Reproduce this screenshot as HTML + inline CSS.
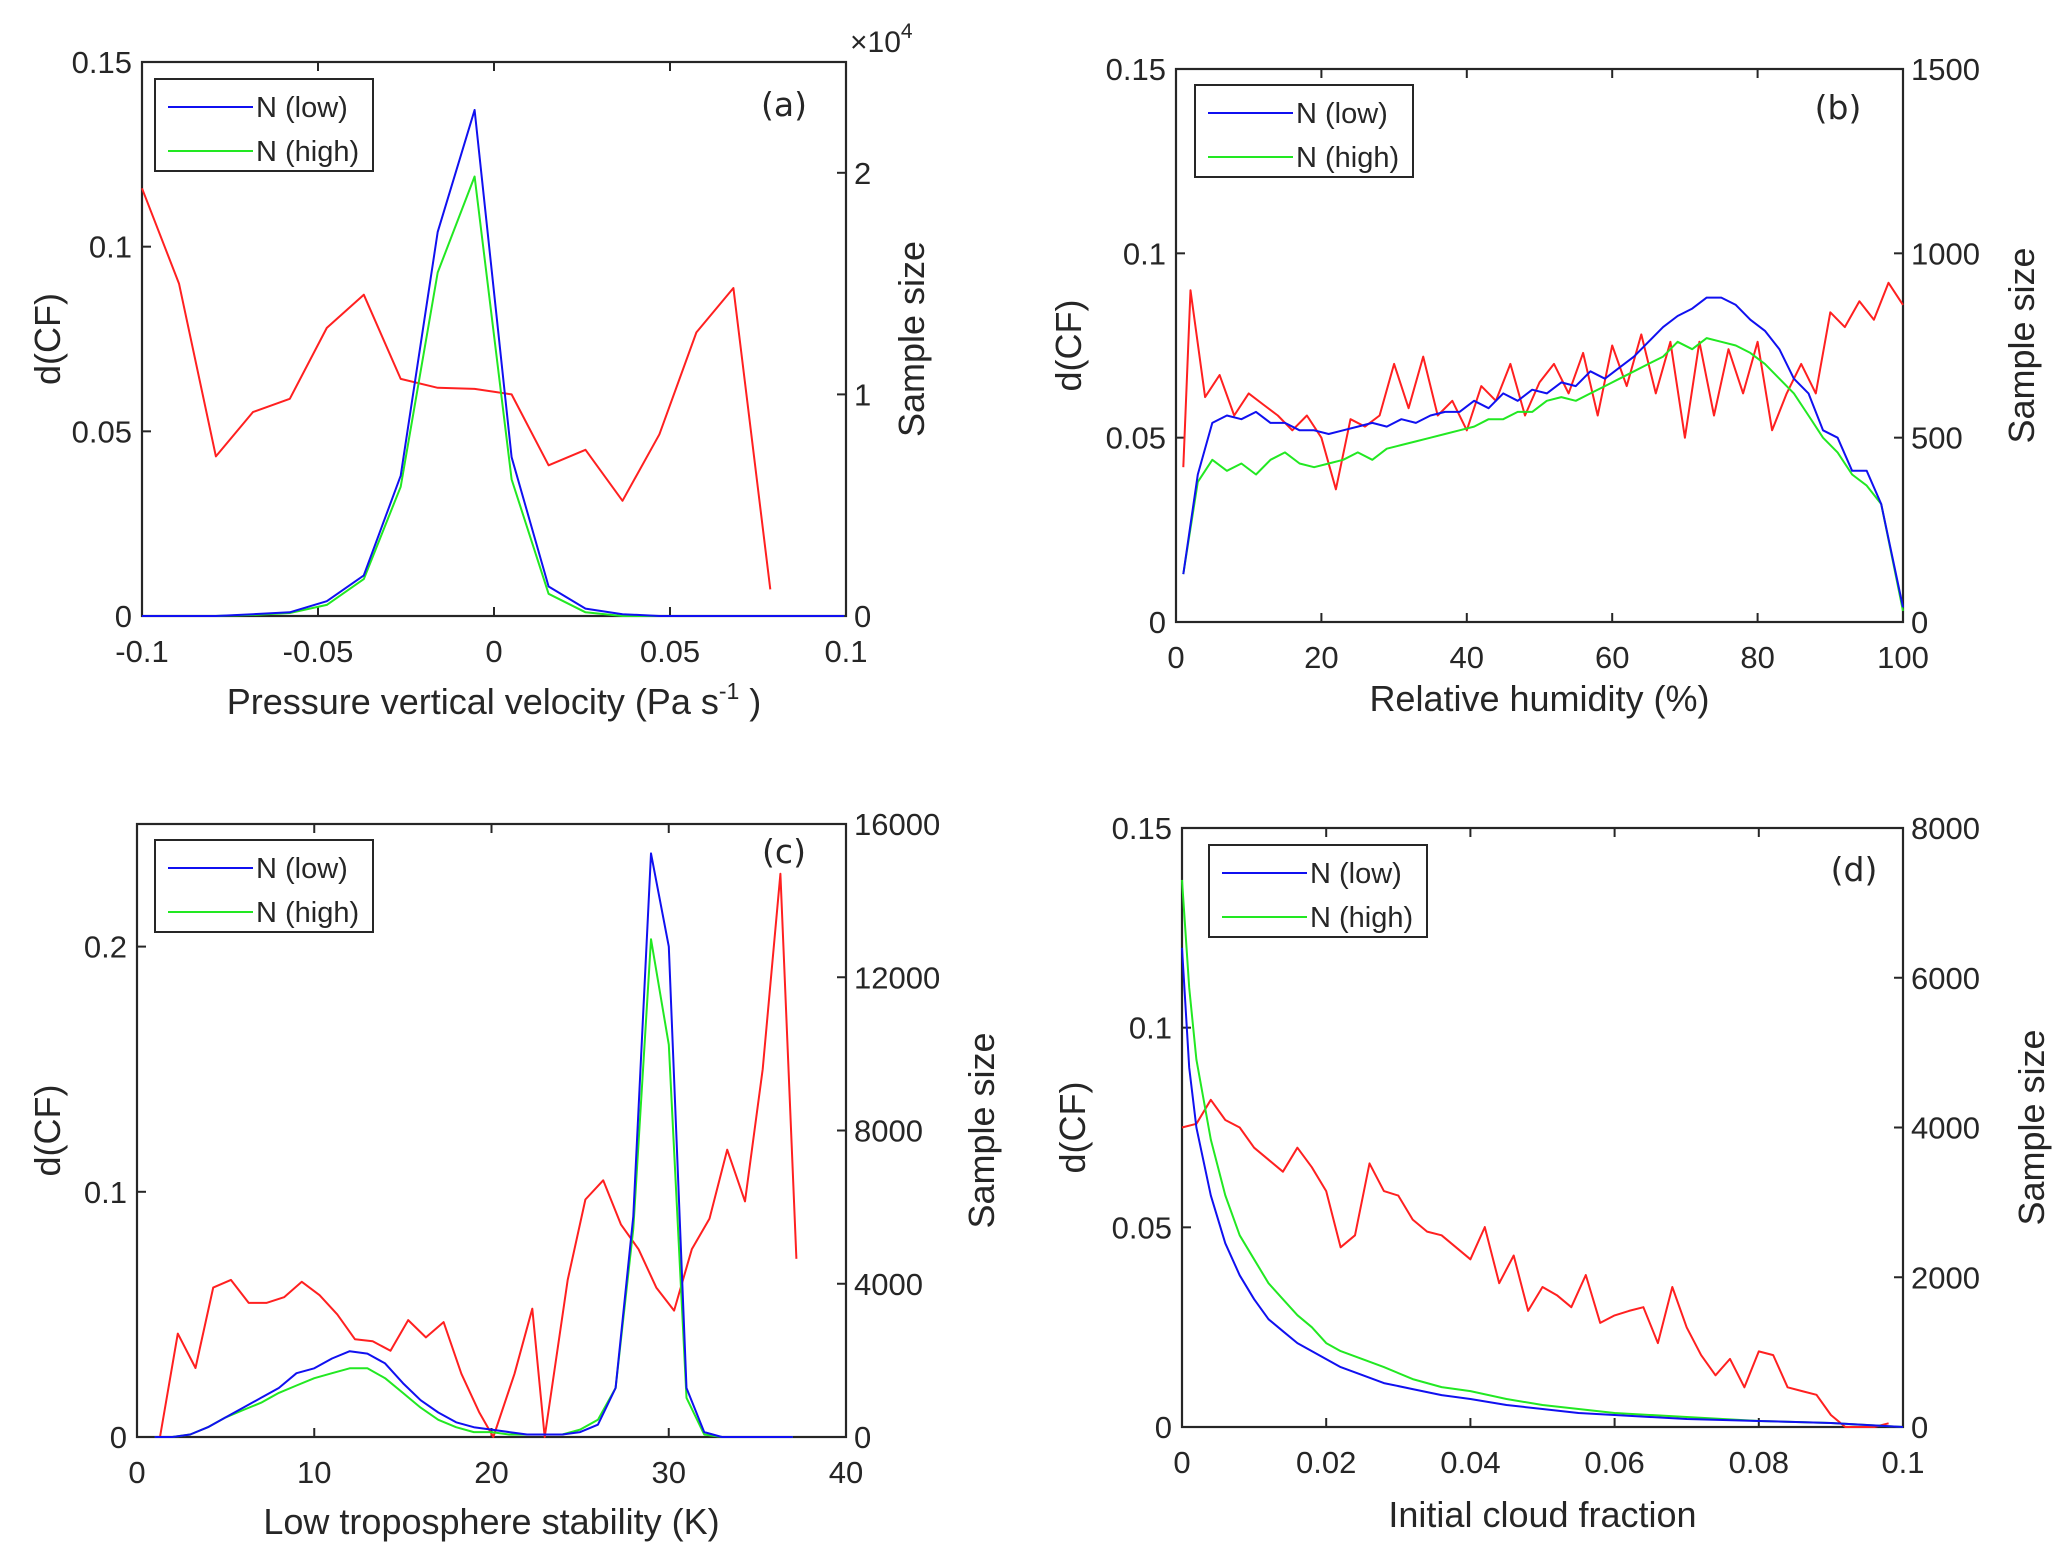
<!DOCTYPE html>
<html><head><meta charset="utf-8">
<style>
html,body{margin:0;padding:0;background:#fff;}
svg{display:block;font-family:"Liberation Sans",sans-serif;}
</style></head>
<body>
<svg id="fig" width="2067" height="1554" viewBox="0 0 2067 1554" xmlns="http://www.w3.org/2000/svg"></svg>
<script>
// ---- Panel (a) data ----
const aX = [-0.1,-0.0895,-0.079,-0.0685,-0.058,-0.0475,-0.037,-0.0265,-0.016,-0.0055,0.005,0.0155,0.026,0.0365,0.047,0.0575,0.068,0.0785,0.089,0.0995];
const aLow = [0,0,0,0.0005,0.001,0.004,0.011,0.038,0.104,0.137,0.043,0.008,0.002,0.0005,0,0,0,0,0,0];
const aHigh = [0,0,0,0.0003,0.0008,0.003,0.010,0.035,0.093,0.119,0.037,0.006,0.001,0,0,0,0,0,0,0];
const aRedX = [-0.1,-0.0895,-0.079,-0.0685,-0.058,-0.0475,-0.037,-0.0265,-0.016,-0.0055,0.005,0.0155,0.026,0.0365,0.047,0.0575,0.068,0.0785];
const aSample = [19300,15000,7200,9200,9800,13000,14500,10700,10300,10250,10000,6800,7500,5200,8200,12800,14800,1200];
// ---- Panel (b) data ----
const bX = [1,3,5,7,9,11,13,15,17,19,21,23,25,27,29,31,33,35,37,39,41,43,45,47,49,51,53,55,57,59,61,63,65,67,69,71,73,75,77,79,81,83,85,87,89,91,93,95,97,100];
const bLow = [0.013,0.040,0.054,0.056,0.055,0.057,0.054,0.054,0.052,0.052,0.051,0.052,0.053,0.054,0.053,0.055,0.054,0.056,0.057,0.057,0.060,0.058,0.062,0.060,0.063,0.062,0.065,0.064,0.068,0.066,0.069,0.072,0.076,0.080,0.083,0.085,0.088,0.088,0.086,0.082,0.079,0.074,0.066,0.062,0.052,0.050,0.041,0.041,0.032,0.004];
const bHigh = [0.013,0.038,0.044,0.041,0.043,0.040,0.044,0.046,0.043,0.042,0.043,0.044,0.046,0.044,0.047,0.048,0.049,0.050,0.051,0.052,0.053,0.055,0.055,0.057,0.057,0.060,0.061,0.060,0.062,0.064,0.066,0.068,0.070,0.072,0.076,0.074,0.077,0.076,0.075,0.073,0.070,0.066,0.062,0.056,0.050,0.046,0.040,0.037,0.032,0.003];
const bRedX = [1,2,4,6,8,10,12,14,16,18,20,22,24,26,28,30,32,34,36,38,40,42,44,46,48,50,52,54,56,58,60,62,64,66,68,70,72,74,76,78,80,82,84,86,88,90,92,94,96,98,100];
const bSample = [420,900,610,670,560,620,590,560,520,560,500,360,550,530,560,700,580,720,560,600,520,640,600,700,560,650,700,620,730,560,750,640,780,620,760,500,760,560,740,620,760,520,620,700,620,840,800,870,820,920,860];
// ---- Panel (c) data ----
const cX = [1,2,3,4,5,6,7,8,9,10,11,12,13,14,15,16,17,18,19,20,21,22,23,24,25,26,27,28,29,30,31,32,33,34,35,36,37];
const cLow = [0,0,0.001,0.004,0.008,0.012,0.016,0.020,0.026,0.028,0.032,0.035,0.034,0.030,0.022,0.015,0.010,0.006,0.004,0.003,0.002,0.001,0.001,0.001,0.002,0.005,0.020,0.090,0.238,0.200,0.020,0.002,0,0,0,0,0];
const cHigh = [0,0,0.001,0.004,0.008,0.011,0.014,0.018,0.021,0.024,0.026,0.028,0.028,0.024,0.018,0.012,0.007,0.004,0.002,0.002,0.001,0.001,0.001,0.001,0.003,0.007,0.020,0.085,0.203,0.160,0.016,0.001,0,0,0,0,0];
const cRedX = [1.3,2.3,3.3,4.3,5.3,6.3,7.3,8.3,9.3,10.3,11.3,12.3,13.3,14.3,15.3,16.3,17.3,18.3,19.3,20.1,21.3,22.3,23.0,24.3,25.3,26.3,27.3,28.3,29.3,30.3,31.3,32.3,33.3,34.3,35.3,36.3,37.2];
const cSample = [0,2700,1800,3900,4100,3500,3500,3650,4050,3700,3200,2550,2500,2250,3050,2600,3000,1650,650,0,1650,3350,0,4100,6200,6700,5550,4900,3900,3300,4900,5700,7500,6150,9600,14700,4650];
// ---- Panel (d) data ----
const dX = [0,0.001,0.002,0.004,0.006,0.008,0.010,0.012,0.014,0.016,0.018,0.020,0.022,0.025,0.028,0.032,0.036,0.040,0.045,0.050,0.055,0.060,0.070,0.080,0.090,0.100];
const dLow = [0.120,0.090,0.075,0.058,0.046,0.038,0.032,0.027,0.024,0.021,0.019,0.017,0.015,0.013,0.011,0.0095,0.008,0.007,0.0055,0.0045,0.0035,0.003,0.002,0.0015,0.001,0];
const dHigh = [0.137,0.110,0.092,0.072,0.058,0.048,0.042,0.036,0.032,0.028,0.025,0.021,0.019,0.017,0.015,0.012,0.010,0.009,0.007,0.0055,0.0045,0.0035,0.0025,0.0015,0.001,0];
const dRedX = [0,0.002,0.004,0.006,0.008,0.010,0.012,0.014,0.016,0.018,0.020,0.022,0.024,0.026,0.028,0.030,0.032,0.034,0.036,0.038,0.040,0.042,0.044,0.046,0.048,0.050,0.052,0.054,0.056,0.058,0.060,0.062,0.064,0.066,0.068,0.070,0.072,0.074,0.076,0.078,0.080,0.082,0.084,0.086,0.088,0.090,0.092,0.094,0.096,0.098];
const dSample = [4000,4050,4370,4100,4000,3730,3570,3410,3730,3470,3150,2400,2560,3520,3150,3090,2770,2610,2560,2400,2240,2670,1920,2290,1550,1870,1760,1600,2030,1390,1490,1550,1600,1120,1870,1330,960,690,910,530,1010,960,530,480,430,160,0,0,0,50];

const NS = 'http://www.w3.org/2000/svg';
const fig = document.getElementById('fig');
function mk(tag, attrs, parent){
  const e = document.createElementNS(NS, tag);
  for (const k in attrs) e.setAttribute(k, attrs[k]);
  (parent||fig).appendChild(e);
  return e;
}
function txt(parent, x, y, s, size, anchor, extra){
  const t = mk('text', Object.assign({x:x, y:y, 'font-size':size, fill:'#262626', 'text-anchor':anchor||'middle'}, extra||{}), parent);
  t.textContent = s;
  return t;
}

function panel(p){
  const g = mk('g', {});
  
  
  const sx = v => p.L + (v - p.xmin) / (p.xmax - p.xmin) * (p.R - p.L);
  const syL = v => p.B - v / p.ymax * (p.B - p.T);
  const syR = v => p.B - v / p.rmax * (p.B - p.T);
  const fr = mk('rect', {x:p.L, y:p.T, width:p.R-p.L, height:p.B-p.T, fill:'none', stroke:'#262626', 'stroke-width':2.2}, g);
  
  
  p.xt.forEach((v,i) => {
    const x = sx(v);
    mk('line', {x1:x, y1:p.B, x2:x, y2:p.B-9, stroke:'#262626', 'stroke-width':2}, g);
    mk('line', {x1:x, y1:p.T, x2:x, y2:p.T+9, stroke:'#262626', 'stroke-width':2}, g);
    const t = txt(g, x, p.B + 46, p.xtl[i], 31);
    
    
  });
  p.yt.forEach((v,i) => {
    const y = syL(v);
    mk('line', {x1:p.L, y1:y, x2:p.L+9, y2:y, stroke:'#262626', 'stroke-width':2}, g);
    const t = txt(g, p.L - 10, y + 11, p.ytl[i], 31, 'end');
    
    
  });
  p.rt.forEach((v,i) => {
    const y = syR(v);
    mk('line', {x1:p.R, y1:y, x2:p.R-9, y2:y, stroke:'#262626', 'stroke-width':2}, g);
    const t = txt(g, p.R + 8, y + 11, p.rtl[i], 31, 'start');
    
    
  });
  const line = (xs, ys, fy, col, name) => {
    const d = xs.map((x,i) => (i?'L':'M') + sx(x).toFixed(1) + ',' + fy(ys[i]).toFixed(1)).join(' ');
    const e = mk('path', {d:d, fill:'none', stroke:col, 'stroke-width':2, 'stroke-linejoin':'round'}, g);
    
    
  };
  line(p.rx, p.rs, syR, '#ff2020', 'sample-size-line');
  line(p.x, p.hi, syL, '#22e822', 'n-high-line');
  line(p.x, p.lo, syL, '#1010f0', 'n-low-line');
  const xt = txt(g, (p.L+p.R)/2, p.xlabY, '', 36);
  
  
  if (p.sup) {
    xt.textContent = p.xlab;
    const s1 = mk('tspan', {'font-size':23, dy:-15}, xt); s1.textContent = '-1';
    const s2 = mk('tspan', {dy:15}, xt); s2.textContent = ' )';
  } else xt.textContent = p.xlab;
  const yl = txt(g, 0, 0, 'd(CF)', 36, 'middle', {transform:'translate(' + p.ylX + ',' + ((p.T+p.B)/2) + ') rotate(-90)'});
  
  
  const yr = txt(g, 0, 0, 'Sample size', 36, 'middle', {transform:'translate(' + p.yrX + ',' + ((p.T+p.B)/2) + ') rotate(-90)'});
  
  
  const pl = txt(g, p.plX, p.plY, '(' + p.id + ')', 33, 'middle', {'font-family':'"DejaVu Sans",sans-serif'});
  
  
  const lg = mk('g', {}, g);
  
  
  mk('rect', {x:p.lgX, y:p.lgY, width:218, height:92, fill:'#fff', stroke:'#262626', 'stroke-width':2}, lg);
  [['N (low)','#1010f0',28],['N (high)','#22e822',72]].forEach(e => {
    const le = mk('g', {}, lg);
    
    
    mk('line', {x1:p.lgX+13, y1:p.lgY+e[2], x2:p.lgX+98, y2:p.lgY+e[2], stroke:e[1], 'stroke-width':2}, le);
    txt(le, p.lgX+101, p.lgY+e[2]+10, e[0], 29, 'start');
  });
}

panel({id:'a', L:142, R:846, T:62, B:616, xmin:-0.1, xmax:0.1, ymax:0.15, rmax:25000,
  xt:[-0.1,-0.05,0,0.05,0.1], xtl:['-0.1','-0.05','0','0.05','0.1'],
  yt:[0,0.05,0.1,0.15], ytl:['0','0.05','0.1','0.15'],
  rt:[0,10000,20000], rtl:['0','1','2'],
  x:aX, lo:aLow, hi:aHigh, rx:aRedX, rs:aSample,
  xlab:'Pressure vertical velocity (Pa s', sup:true, xlabY:714, ylX:60, yrX:924,
  plX:784, plY:116, lgX:155, lgY:79});
panel({id:'b', L:1176, R:1903, T:69, B:622, xmin:0, xmax:100, ymax:0.15, rmax:1500,
  xt:[0,20,40,60,80,100], xtl:['0','20','40','60','80','100'],
  yt:[0,0.05,0.1,0.15], ytl:['0','0.05','0.1','0.15'],
  rt:[0,500,1000,1500], rtl:['0','500','1000','1500'],
  x:bX, lo:bLow, hi:bHigh, rx:bRedX, rs:bSample,
  xlab:'Relative humidity (%)', sup:false, xlabY:711, ylX:1081, yrX:2034,
  plX:1838, plY:119, lgX:1195, lgY:85});
panel({id:'c', L:137, R:846, T:824, B:1437, xmin:0, xmax:40, ymax:0.25, rmax:16000,
  xt:[0,10,20,30,40], xtl:['0','10','20','30','40'],
  yt:[0,0.1,0.2], ytl:['0','0.1','0.2'],
  rt:[0,4000,8000,12000,16000], rtl:['0','4000','8000','12000','16000'],
  x:cX, lo:cLow, hi:cHigh, rx:cRedX, rs:cSample,
  xlab:'Low troposphere stability (K)', sup:false, xlabY:1534, ylX:60, yrX:994,
  plX:784, plY:863, lgX:155, lgY:840});
panel({id:'d', L:1182, R:1903, T:828, B:1427, xmin:0, xmax:0.1, ymax:0.15, rmax:8000,
  xt:[0,0.02,0.04,0.06,0.08,0.1], xtl:['0','0.02','0.04','0.06','0.08','0.1'],
  yt:[0,0.05,0.1,0.15], ytl:['0','0.05','0.1','0.15'],
  rt:[0,2000,4000,6000,8000], rtl:['0','2000','4000','6000','8000'],
  x:dX, lo:dLow, hi:dHigh, rx:dRedX, rs:dSample,
  xlab:'Initial cloud fraction', sup:false, xlabY:1527, ylX:1085, yrX:2044,
  plX:1854, plY:881, lgX:1209, lgY:845});

const ex = txt(fig, 850, 52, '\u00d710', 30, 'start');


const exs = mk('tspan', {'font-size':21, dy:-14}, ex); exs.textContent = '4';
</script>
</body></html>
